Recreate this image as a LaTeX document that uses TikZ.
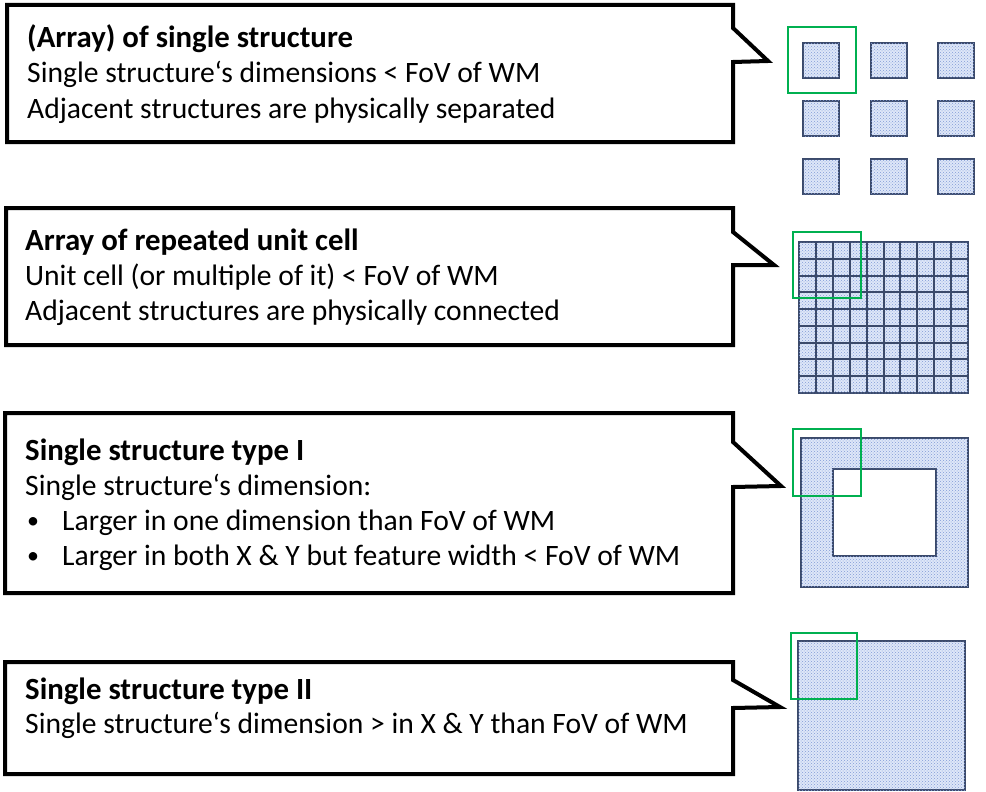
\documentclass[tikz,border=0pt]{standalone}
\usepackage{fontspec}
\setmainfont{Carlito}
\usetikzlibrary{patterns}
\definecolor{edgeblue}{RGB}{59,74,107}
\definecolor{fillblue}{RGB}{222,231,248}
\definecolor{dotblue}{RGB}{130,155,215}
\definecolor{fovgreen}{RGB}{0,176,80}
\tikzset{
  callout/.style={draw=black, line width=4pt, line join=miter, fill=white},
  struct/.style={draw=edgeblue, line width=2pt, fill=fillblue,
    postaction={pattern=crosshatch dots, pattern color=dotblue}},
  gridline/.style={draw=edgeblue, line width=2pt},
  fov/.style={draw=fovgreen, line width=2pt},
  txt/.style={anchor=base west, inner sep=0pt, font=\fontsize{29.6}{34}\selectfont},
  ttl/.style={anchor=base west, inner sep=0pt, font=\fontsize{30.8}{34}\selectfont\bfseries},
  bul/.style={anchor=base west, inner sep=0pt, font=\fontsize{24}{34}\selectfont},
}
\begin{document}
\begin{tikzpicture}[x=1pt,y=-1pt]
\useasboundingbox (0,0) rectangle (986,792);
% callout boxes
\draw[callout] (7,5) -- (733,5) -- (733,28) -- (768,61) -- (733,62) -- (733,142) -- (7,142) -- cycle;
\draw[callout] (6,208) -- (733,208) -- (733,232) -- (774,265) -- (733,265) -- (733,345) -- (6,345) -- cycle;
\draw[callout] (5,413) -- (733,413) -- (733,442) -- (781,486) -- (733,487) -- (733,593) -- (5,593) -- cycle;
\draw[callout] (5,662) -- (733,662) -- (733,680) -- (780,707) -- (733,708) -- (733,774) -- (5,774) -- cycle;
% texts box 1
\node[ttl] (t1) at (27,48) {(Array) of single structure};
\node[txt] (t1a) at (27,83) {Single structure‘s dimensions < FoV of WM};
\node[txt] (t1b) at (27,118) {Adjacent structures are physically separated};
% box 2
\node[ttl] (t2) at (25,250) {Array of repeated unit cell};
\node[txt] (t2a) at (25,285) {Unit cell (or multiple of it) < FoV of WM};
\node[txt] (t2b) at (25,320) {Adjacent structures are physically connected};
% box 3
\node[ttl] (t3) at (25,460) {Single structure type I};
\node[txt] (t3a) at (25,495) {Single structure‘s dimension:};
\node[bul] (b3a) at (27,528) {•};
\node[txt] (t3b) at (62,530) {Larger in one dimension than FoV of WM};
\node[bul] (b3b) at (27,563) {•};
\node[txt] (t3c) at (62,565) {Larger in both X \& Y but feature width < FoV of WM};
% box 4
\node[ttl] (t4) at (25,699) {Single structure type II};
\node[txt] (t4a) at (25,733) {Single structure‘s dimension > in X \& Y than FoV of WM};
% structures 1: 3x3 separated squares
\foreach \cx in {803,871,938}{
  \foreach \cy in {43,101,159}{
    \draw[struct] (\cx,\cy) rectangle ++(36,35);
  }
}
\draw[fov] (788,27) rectangle (856,93);
% structures 2: grid 10x9
\draw[struct] (799,242) rectangle (968,393);
\foreach \i in {1,...,9}{
  \draw[gridline] ({799+\i*16.9},242) -- ({799+\i*16.9},393);
}
\foreach \j in {1,...,8}{
  \draw[gridline] (799,{242+\j*16.78}) -- (968,{242+\j*16.78});
}
\draw[fov] (793,232) rectangle (861,298);
% structure 3: frame
\draw[struct, even odd rule] (801,438) rectangle (968,587) (833,469) rectangle (936,556);
\draw[fov] (793,429) rectangle (861,496);
% structure 4: big square
\draw[struct] (798,641) rectangle (965,790);
\draw[fov] (791,633) rectangle (857,699);
\end{tikzpicture}
\end{document}
